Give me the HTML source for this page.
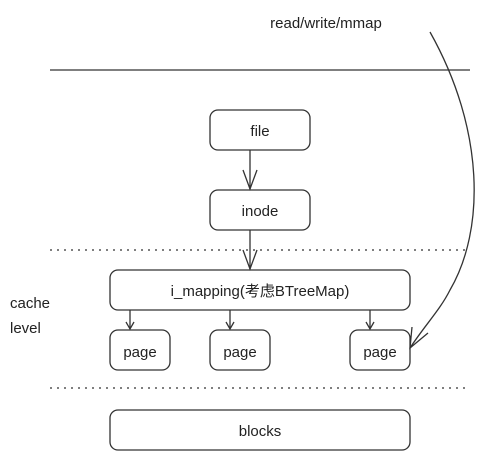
<!DOCTYPE html>
<html><head><style>body{margin:0;background:#fff}svg{display:block}text{font-family:"Liberation Sans","Noto Sans CJK SC",sans-serif;font-size:15px;fill:#222}</style></head><body>
<svg width="480" height="460" viewBox="0 0 480 460">
<g fill="none" stroke="#333" stroke-width="1.3">
<line x1="50" y1="70" x2="470" y2="70"/>
<line x1="50" y1="250" x2="470" y2="250" stroke-dasharray="2,5"/>
<line x1="50" y1="388" x2="470" y2="388" stroke-dasharray="2,5"/>
<rect x="210" y="110" width="100" height="40" rx="8"/>
<rect x="210" y="190" width="100" height="40" rx="8"/>
<rect x="110" y="270" width="300" height="40" rx="8"/>
<rect x="110" y="330" width="60" height="40" rx="8"/>
<rect x="210" y="330" width="60" height="40" rx="8"/>
<rect x="350" y="330" width="60" height="40" rx="8"/>
<rect x="110" y="410" width="300" height="40" rx="8"/>
<line x1="250" y1="150" x2="250" y2="189"/><polyline points="243,170 250,189 257,170"/>
<line x1="250" y1="230" x2="250" y2="269"/><polyline points="243,250 250,269 257,250"/>
<line x1="130" y1="310" x2="130" y2="329"/><polyline points="126,322 130,329 134,322"/>
<line x1="230" y1="310" x2="230" y2="329"/><polyline points="226,322 230,329 234,322"/>
<line x1="370" y1="310" x2="370" y2="329"/><polyline points="366,322 370,329 374,322"/>
<path d="M430,32 C485,130 485,230 450,290 C440,310 425,325 410,348"/>
<polyline points="412,327 410,348 428,333"/>
</g>
<g text-anchor="middle">
<text x="326" y="28">read/write/mmap</text>
<text x="260" y="136">file</text>
<text x="260" y="216">inode</text>
<text x="260" y="296">i_mapping(考虑BTreeMap)</text>
<text x="140" y="357">page</text>
<text x="240" y="357">page</text>
<text x="380" y="357">page</text>
<text x="260" y="436">blocks</text>
</g>
<text x="10" y="308">cache</text>
<text x="10" y="333">level</text>
</svg>
</body></html>
